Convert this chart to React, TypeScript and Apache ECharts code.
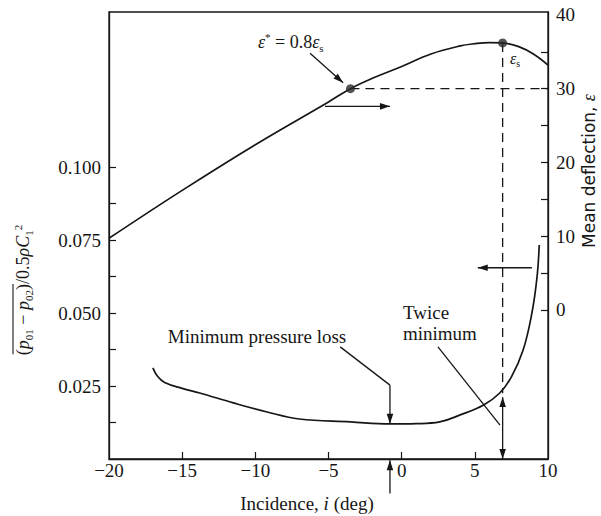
import React, { useEffect, useRef } from 'react';
import * as echarts from 'echarts';

// ---------- axis ticks / labels ----------
const X_LABELS = [-20, -15, -10, -5, 0, 5, 10];
const X_TICKS = [-15, -10, -5, 0, 5];
const LOSS_TICKS = [0.0125, 0.025, 0.0375, 0.05, 0.0625, 0.075, 0.0875, 0.1];
const LOSS_LABELS = [0.025, 0.05, 0.075, 0.1];
const DEFL_TICKS = [0, 5, 10, 15, 20, 25, 30, 35];
const DEFL_LABELS = [0, 10, 20, 30, 40];

// ---------- pressure loss curve (left axis) ----------
const lossIncidence = [-17, -16.7, -16.2, -15, -13.8, -11.5, -9.2, -7, -3.5, -0.8, 1, 2.6, 4, 5.6, 6.7, 7.5, 8.3, 8.9, 9.25, 9.4];
const lossValues = [0.0312, 0.0284, 0.0262, 0.0242, 0.0226, 0.0192, 0.0161, 0.0137, 0.0127, 0.012, 0.0121, 0.0127, 0.0151, 0.0185, 0.0226, 0.0281, 0.0373, 0.05, 0.0623, 0.0733];

// ---------- mean deflection curve (right axis) ----------
const deflIncidence = [-20, -15, -10, -5, -3.5, -2, 0, 2, 4, 5, 6, 6.9, 8, 9, 10];
const deflValues = [9.7, 16.2, 22.4, 28.2, 30.0, 31.4, 33.0, 34.7, 35.8, 36.1, 36.25, 36.2, 35.7, 34.7, 33.2];

// ---------- marked points (right axis) ----------
const epsStar = [-3.5, 30];
const epsS = [6.9, 36.2];

// ---------- annotation anchors (data coordinates) ----------
const starArrowR = [[-6.26, 34.8], [-4.0, 30.8]];
const rightArrowR = [[-5.24, 27.6], [-0.8, 27.6]];
const dashHR = [[-3.5, 30], [10, 30]];
const dashVTopR = [6.9, 36.2];
const dashVBottomL = [6.9, 0.0225];
const doubleArrowL = [[6.9, 0.0212], [6.9, 0]];
const leftArrowR = [[8.9, 5.7], [5.2, 5.7]];
const minLeaderL = [[-4.2, 0.0384], [-0.8, 0.0253], [-0.8, 0.0121]];
const twiceLeaderL = [[2.48, 0.0384], [6.72, 0.0116]];
const bottomArrowL = [[-0.8, -0.0118], [-0.8, -0.0004]];

const INK = '#161616';
const SERIF = '"Liberation Serif", "DejaVu Serif", serif';
const SANS = '"DejaVu Sans", sans-serif';

function seg(a: number[], b: number[], dashed = false, w = 1.3): any {
  return {
    type: 'line', silent: true,
    shape: { x1: a[0], y1: a[1], x2: b[0], y2: b[1] },
    style: { stroke: INK, lineWidth: w, lineDash: dashed ? [9, 6] : null },
  };
}
function head(tip: number[], from: number[], len = 10, half = 3.3): any {
  const dx = tip[0] - from[0], dy = tip[1] - from[1];
  const L = Math.hypot(dx, dy) || 1;
  const ux = dx / L, uy = dy / L;
  const bx = tip[0] - ux * len, by = tip[1] - uy * len;
  return {
    type: 'polygon', silent: true,
    shape: { points: [[tip[0], tip[1]], [bx - uy * half, by + ux * half], [bx + uy * half, by - ux * half]] },
    style: { fill: INK },
  };
}

function measure(text: string, font: string): number {
  const c = document.createElement('canvas').getContext('2d')!;
  c.font = font;
  return c.measureText(text).width;
}

export default function App() {
  const ref = useRef<HTMLDivElement>(null);
  useEffect(() => {
    const chart = echarts.init(ref.current!, null, { renderer: 'svg' });
    const minus = (v: number) => (v < 0 ? '\u2212' + Math.abs(v) : String(v));
    const option: any = {
      animation: false,
      backgroundColor: '#ffffff',
      grid: { left: 109, right: 53, top: 12, bottom: 57, show: true, borderColor: INK, borderWidth: 1.3 },
      xAxis: {
        type: 'value', min: -20, max: 10, interval: 5,
        axisLine: { onZero: false, lineStyle: { color: INK, width: 1.3 } },
        axisTick: { inside: true, length: 7, customValues: X_TICKS, lineStyle: { color: INK, width: 1.2 } },
        axisLabel: { customValues: X_LABELS, formatter: minus, color: INK, fontFamily: SERIF, fontSize: 19, margin: 2 },
        splitLine: { show: false },
      },
      yAxis: [
        {
          type: 'value', min: 0, max: 0.1531, position: 'left',
          axisLine: { show: true, onZero: false, lineStyle: { color: INK, width: 1.3 } },
          axisTick: { show: true, inside: true, length: 7, customValues: LOSS_TICKS, lineStyle: { color: INK, width: 1.2 } },
          axisLabel: { customValues: LOSS_LABELS, formatter: (v: number) => v.toFixed(3), color: INK, fontFamily: SERIF, fontSize: 19, margin: 8 },
          splitLine: { show: false },
        },
        {
          type: 'value', min: -20.25, max: 40.4, position: 'right',
          axisLine: { show: true, onZero: false, lineStyle: { color: INK, width: 1.3 } },
          axisTick: { show: true, inside: true, length: 7, customValues: DEFL_TICKS, lineStyle: { color: INK, width: 1.2 } },
          axisLabel: { customValues: DEFL_LABELS, color: INK, fontFamily: SERIF, fontSize: 19, margin: 8 },
          splitLine: { show: false },
        },
      ],
      series: [
        {
          type: 'line', name: 'loss', yAxisIndex: 0, showSymbol: false, smooth: 0.4,
          lineStyle: { color: INK, width: 1.7 },
          data: lossIncidence.map((x, i) => [x, lossValues[i]]),
        },
        {
          type: 'line', name: 'deflection', yAxisIndex: 1, showSymbol: false, smooth: 0.4,
          lineStyle: { color: INK, width: 1.7 },
          data: deflIncidence.map((x, i) => [x, deflValues[i]]),
        },
        {
          type: 'scatter', yAxisIndex: 1, symbolSize: 9, itemStyle: { color: '#2a2a2a' },
          data: [epsStar, epsS], z: 5,
        },
      ],
    };
    chart.setOption(option);

    const PL = (p: number[]) => chart.convertToPixel({ seriesIndex: 0 }, p) as number[];
    const PR = (p: number[]) => chart.convertToPixel({ seriesIndex: 1 }, p) as number[];

    const g: any[] = [];
    {
      const a = PR(starArrowR[0]), b = PR(starArrowR[1]);
      g.push(seg(a, b), head(b, a));
    }
    {
      const a = PR(rightArrowR[0]), b = PR(rightArrowR[1]);
      g.push(seg(a, b), head(b, a));
    }
    g.push(seg(PR(dashHR[0]), PR(dashHR[1]), true));
    g.push(seg(PR(dashVTopR), PL(dashVBottomL), true));
    {
      const a = PL(doubleArrowL[0]), b = PL(doubleArrowL[1]);
      g.push(seg(a, b), head(a, b), head(b, a));
    }
    {
      const a = PR(leftArrowR[0]), b = PR(leftArrowR[1]);
      g.push(seg(a, b), head(b, a));
    }
    {
      const p = minLeaderL.map(PL);
      g.push(seg(p[0], p[1]), seg(p[1], p[2]), head(p[2], p[1]));
    }
    {
      const p = twiceLeaderL.map(PL);
      g.push(seg(p[0], p[1]));
    }
    {
      const a = PL(bottomArrowL[0]), b = PL(bottomArrowL[1]);
      g.push(seg(a, b), head(b, a));
    }

    const richBase = (size: number) => ({
      it: { fontStyle: 'italic', fontFamily: SERIF, fontSize: size, fill: INK },
      sub: { fontFamily: SERIF, fontSize: Math.round(size * 0.6), verticalAlign: 'bottom', fill: INK },
      sup: { fontFamily: SERIF, fontSize: Math.round(size * 0.6), verticalAlign: 'top', fill: INK },
    });

    g.push({
      type: 'text', x: 258, y: 42, silent: true,
      style: {
        text: '{it|\u03b5}{sup|*} = 0.8{it|\u03b5}{sub|s}', fontFamily: SERIF, fontSize: 18, fill: INK,
        align: 'left', verticalAlign: 'middle', lineHeight: 22, rich: richBase(18),
      },
    });
    g.push({
      type: 'text', x: 510, y: 58, silent: true,
      style: {
        text: '{it|\u03b5}{sub|s}', fontFamily: SERIF, fontSize: 16, fill: INK,
        align: 'left', verticalAlign: 'middle', lineHeight: 20, rich: richBase(16),
      },
    });
    g.push({
      type: 'text', x: 257, y: 336, silent: true,
      style: { text: 'Minimum pressure loss', fontFamily: SERIF, fontSize: 19, fill: INK, align: 'center', verticalAlign: 'middle' },
    });
    g.push({
      type: 'text', x: 403, y: 312, silent: true,
      style: { text: 'Twice', fontFamily: SERIF, fontSize: 19, fill: INK, align: 'left', verticalAlign: 'middle' },
    });
    g.push({
      type: 'text', x: 403, y: 333, silent: true,
      style: { text: 'minimum', fontFamily: SERIF, fontSize: 19, fill: INK, align: 'left', verticalAlign: 'middle' },
    });
    g.push({
      type: 'text', x: 307, y: 503, silent: true,
      style: {
        text: 'Incidence, {it|i} (deg)', fontFamily: SERIF, fontSize: 19, fill: INK,
        align: 'center', verticalAlign: 'middle', rich: richBase(19),
      },
    });
    g.push({
      type: 'text', x: 589, y: 171, rotation: Math.PI / 2, silent: true,
      style: {
        text: 'Mean deflection, {it|\u03b5}', fontFamily: SANS, fontSize: 17, fill: INK,
        align: 'center', verticalAlign: 'middle', rich: richBase(18),
      },
    });

    {
      const fs = 18, ss = Math.round(fs * 0.6);
      const f = `${fs}px ${SERIF}`, fi = `italic ${fs}px ${SERIF}`, fsub = `${ss}px ${SERIF}`;
      const wOver = measure('(', f) + measure('p', fi) + measure('01', fsub) + measure(' \u2212 ', f) + measure('p', fi) + measure('02', fsub) + measure(')', f);
      const wTotal = wOver + measure('/0.5', f) + measure('\u03c1C', fi) + measure('1', fsub) + measure('2', fsub);
      const x0 = -wTotal / 2;
      g.push({
        type: 'group', x: 23, y: 290, rotation: Math.PI / 2, silent: true,
        children: [
          {
            type: 'text', x: x0, y: 0,
            style: {
              text: '({it|p}{sub|01} \u2212 {it|p}{sub|02})/0.5{it|\u03c1C}{sub|1}{sup|2}',
              fontFamily: SERIF, fontSize: fs, fill: INK, align: 'left', verticalAlign: 'middle', lineHeight: 22,
              rich: richBase(fs),
            },
          },
          { type: 'line', shape: { x1: x0 + 1, y1: -10, x2: x0 + wOver, y2: -10 }, style: { stroke: INK, lineWidth: 1.1 } },
        ],
      });
    }

    chart.setOption({ graphic: { elements: g } });
    return () => chart.dispose();
  }, []);
  return <div ref={ref} style={{ position: 'fixed', left: 0, top: 0, width: 601, height: 516, background: '#fff' }} />;
}
